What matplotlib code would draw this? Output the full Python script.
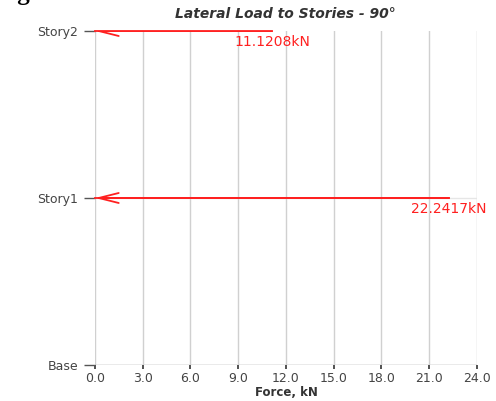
import matplotlib.pyplot as plt

stories = ['Base', 'Story1', 'Story2']
forces = [0.0, 22.2417, 11.1208]
labels = ['', '22.2417kN', '11.1208kN']
xticks = [0, 3, 6, 9, 12, 15, 18, 21, 24]

fig = plt.figure(figsize=(4.96, 4.01), dpi=100)
ax = fig.add_axes([0.1915, 0.0898, 0.9617 - 0.1915, 0.9227 - 0.0898])

ax.set_xlim(0, 24)
ax.set_ylim(0, 2)
ax.set_xticks(xticks)
ax.set_xticklabels(['%.1f' % t for t in xticks])
ax.set_yticks(range(len(stories)))
ax.set_yticklabels(stories)

for s in ax.spines.values():
    s.set_visible(False)
ax.axhline(0, color='#e6e6e6', lw=1.2, zorder=1)
for x in xticks:
    ax.axvline(x, color='#d0d0d0', lw=1.0, zorder=1)
ax.axhline(1, color='#e6e6e6', lw=1.0, zorder=1)

ax.tick_params(axis='y', length=8, width=1, color='#555555', pad=4,
               labelsize=9, labelcolor='#444444')
ax.tick_params(axis='x', length=3, width=1.2, color='#333333', pad=2,
               labelsize=9, labelcolor='#444444')
for lab in ax.get_xticklabels() + ax.get_yticklabels():
    lab.set_fontfamily('DejaVu Sans')

clip = ax.bbox.frozen()
for i, (f, t) in enumerate(zip(forces, labels)):
    if f <= 0:
        continue
    ax.plot([0, f], [i, i], color='#ff2020', lw=1.3, clip_on=False, zorder=3)
    ann = ax.annotate('', xy=(0, i), xytext=(f, i),
                      arrowprops=dict(arrowstyle='->,head_length=1.2,head_width=0.3',
                                      color='#ff2020', lw=1.3, mutation_scale=12,
                                      shrinkA=0, shrinkB=0))
    ann.arrow_patch.set_clip_box(clip)
    ann.arrow_patch.set_clip_on(True)
    ax.annotate(t, xy=(f, i), xytext=(0, -3), textcoords='offset points',
                ha='center', va='top', color='#ff2020', fontsize=10,
                annotation_clip=False)

ax.set_xlabel('Force, kN', fontsize=8.5, fontweight='bold', color='#333333', labelpad=1)
fig.text(0.575, 0.965, 'Lateral Load to Stories - 90°', ha='center', va='center',
         fontsize=10, fontweight='bold', style='italic', color='#333333')
fig.text(-0.01, 1.0, 'Figure 5: Lateral load vs Stories - 90°', ha='left', va='baseline',
         fontsize=18, fontweight='bold', family='Liberation Serif', color='black')

fig.savefig('out.png', dpi=100)
